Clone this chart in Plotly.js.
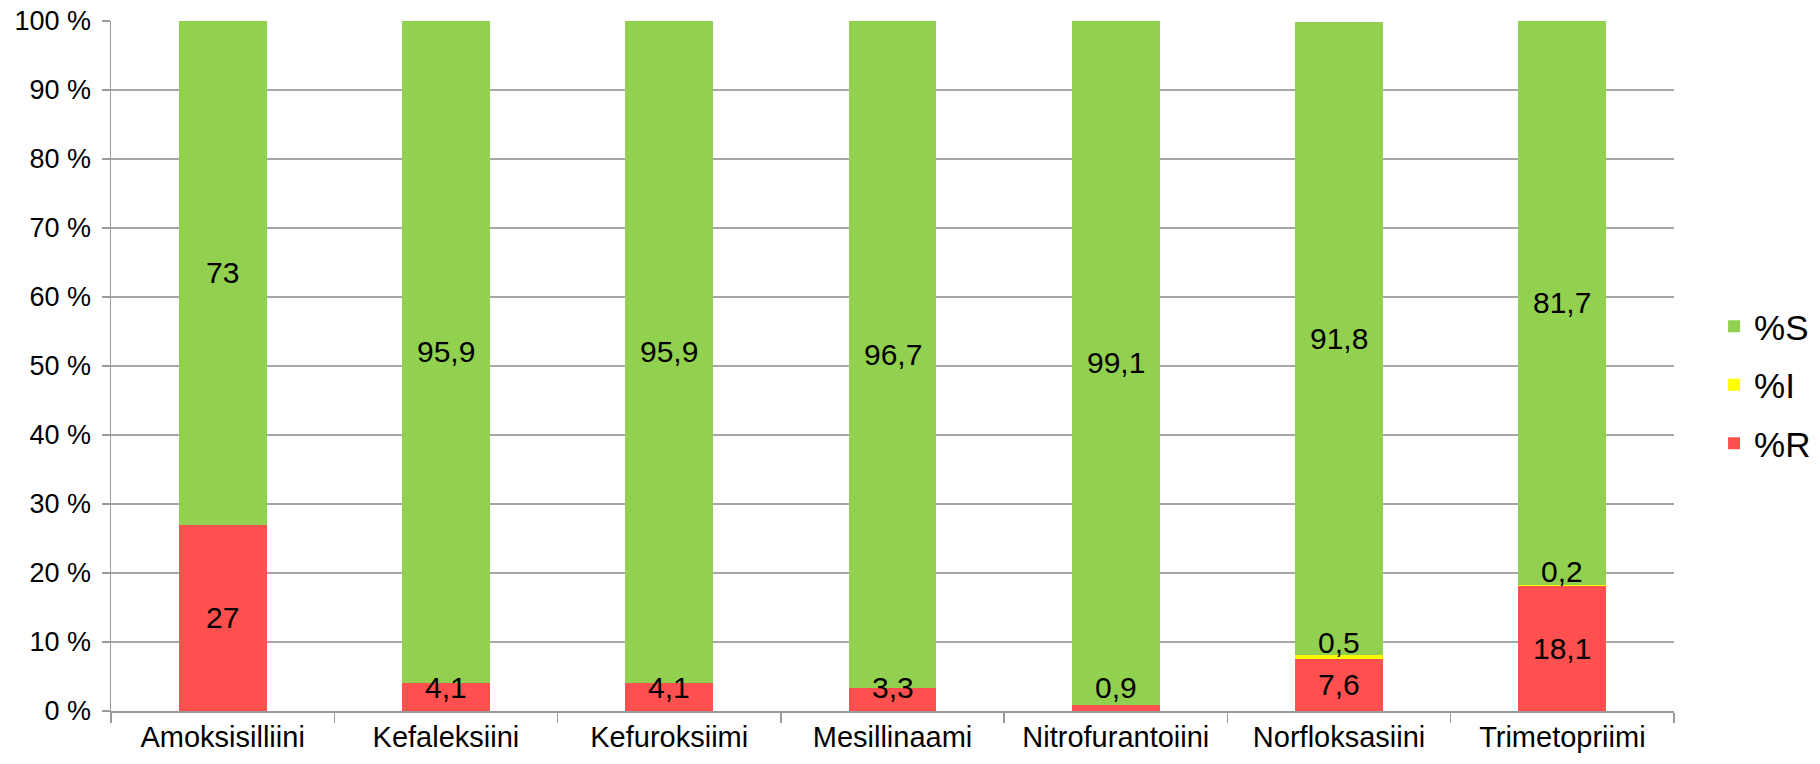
<!DOCTYPE html>
<html>
<head>
<meta charset="utf-8">
<script src="https://cdn.plot.ly/plotly-3.0.1.min.js"></script>
<style>html,body{margin:0;padding:0;background:#fff;}#chart{width:1820px;height:764px;}</style>
</head>
<body>
<div id="chart"></div>
<script>
const categories = ["Amoksisilliini","Kefaleksiini","Kefuroksiimi","Mesillinaami","Nitrofurantoiini","Norfloksasiini","Trimetopriimi"];
const seriesR = [27, 4.1, 4.1, 3.3, 0.9, 7.6, 18.1];
const seriesI = [0, 0, 0, 0, 0, 0.5, 0.2];
const seriesS = [73, 95.9, 95.9, 96.7, 99.1, 91.8, 81.7];
const yTicks = [0,10,20,30,40,50,60,70,80,90,100];

const FONT = "Liberation Sans, Arial, sans-serif";
const LABEL_SIZE = 30;
const fmt = v => String(v).replace('.', ',');

const traces = [
  {type:'bar', name:'%R', x:categories, y:seriesR, marker:{color:'#FF5050'}, legendgroup:'r', legendrank:3, hoverinfo:'none'},
  {type:'bar', name:'%I', x:categories, y:seriesI, marker:{color:'#FFFF00'}, legendgroup:'i', legendrank:2, hoverinfo:'none'},
  {type:'bar', name:'%S', x:categories, y:seriesS, marker:{color:'#92D050'}, legendgroup:'s', legendrank:1, hoverinfo:'none'}
];

const annotations = [];
categories.forEach((c, i) => {
  const r = seriesR[i], iv = seriesI[i], s = seriesS[i];
  annotations.push({x:c, y:Math.max(r/2, 3.4), text:fmt(r), showarrow:false, font:{family:FONT, size:LABEL_SIZE, color:'#000'}});
  if (iv > 0) {
    annotations.push({x:c, y:r + iv/2, yshift:14, text:fmt(iv), showarrow:false, font:{family:FONT, size:LABEL_SIZE, color:'#000'}});
  }
  annotations.push({x:c, y:r + iv + s/2, text:fmt(s), showarrow:false, font:{family:FONT, size:LABEL_SIZE, color:'#000'}});
});

const layout = {
  width:1820, height:764,
  margin:{l:111, r:146, t:21, b:53},
  paper_bgcolor:'#fff', plot_bgcolor:'#fff',
  barmode:'stack', bargap:0.606,
  font:{family:FONT, color:'#000'},
  showlegend:true,
  legend:{xref:'container', yref:'container', x:0.9418, xanchor:'left', y:1 - 385/764, yanchor:'middle',
          traceorder:'grouped', tracegroupgap:10,
          font:{family:FONT, size:35, color:'#000'}, bgcolor:'rgba(0,0,0,0)'},
  xaxis:{type:'category', showline:true, linecolor:'#9a9a9a', linewidth:1.5,
         ticks:'outside', tickson:'boundaries', ticklen:10, tickcolor:'#9a9a9a', tickwidth:1.5,
         tickfont:{family:FONT, size:29, color:'#000'}, showgrid:false, fixedrange:true},
  yaxis:{range:[0,100], tickvals:yTicks, ticktext:yTicks.map(v => v + ' %'),
         showline:true, linecolor:'#9a9a9a', linewidth:1.5,
         ticks:'outside', ticklen:8, tickcolor:'#9a9a9a', tickwidth:1.5,
         showgrid:true, gridcolor:'#a6a6a6', gridwidth:1.5, zeroline:false,
         ticklabelstandoff:5,
         tickfont:{family:FONT, size:27, color:'#000'}, fixedrange:true},
  annotations:annotations
};

Plotly.newPlot('chart', traces, layout, {displayModeBar:false, staticPlot:true});
</script>
</body>
</html>
